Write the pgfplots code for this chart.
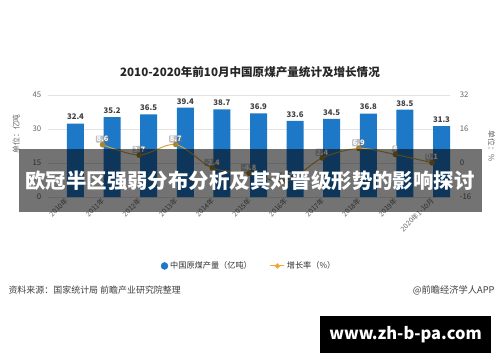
\documentclass[border=0pt]{standalone}
\usepackage{pgfplots}
\pgfplotsset{compat=1.18}
\usepackage{fontspec}
\setmainfont{Noto Sans CJK SC}
\definecolor{barblue}{HTML}{1E78C8}
\definecolor{linegold}{HTML}{D4A43A}
\definecolor{markgold}{HTML}{A8852C}
\definecolor{legorange}{HTML}{F0A830}
\definecolor{txtgray}{HTML}{666666}
\definecolor{gridgray}{HTML}{E3E3E3}
\begin{document}
\begin{tikzpicture}[x=1bp,y=1bp]
\path[fill=white,use as bounding box] (0,0) rectangle (500,362);
\node[font=\bfseries\fontsize{11.6}{13}\selectfont, text=black!85] at (250,290) {2010-2020年前10月中国原煤产量统计及增长情况};
\begin{axis}[
  at={(47.7bp,165bp)}, anchor=south west, scale only axis,
  width=402.6bp, height=102bp,
  xmin=-0.5, xmax=10.5, ymin=0, ymax=45,
  ytick={0,15,30,45}, xtick={0,...,10},
  xticklabels={2010年,2011年,2012年,2013年,2014年,2015年,2016年,2017年,2018年,2019年,2020年1-10月},
  xticklabel style={rotate=45, anchor=east, font=\fontsize{7}{8}\selectfont, text=txtgray, yshift=-2bp, xshift=2bp},
  yticklabel style={font=\fontsize{7.8}{8}\selectfont, text=txtgray, xshift=-3bp},
  /pgf/number format/assume math mode=true,
  axis line style={draw=none}, major tick length=0pt,
  ymajorgrids, grid style={gridgray, line width=0.6pt},
  ylabel={单位：亿吨}, ylabel style={font=\fontsize{7.8}{8}\selectfont, text=txtgray, at={(ticklabel cs:0.62)}, yshift=6bp},
  ybar, bar width=17bp,
  nodes near coords, nodes near coords style={font=\bfseries\fontsize{7.8}{8}\selectfont, text=black!75, /pgf/number format/.cd, fixed, fixed zerofill, precision=1},
  legend style={at={(0.5,-0.676)}, anchor=center, draw=none, fill=none, legend columns=2, font=\fontsize{8.2}{9}\selectfont, text=black!80, /tikz/every even column/.append style={column sep=16bp}},
]
\addplot[fill=barblue, draw=none, forget plot] coordinates {(0,32.4) (1,35.2) (2,36.5) (3,39.4) (4,38.7) (5,36.9) (6,33.6) (7,34.5) (8,36.8) (9,38.5) (10,31.3)};
\addlegendimage{legend image code/.code={\fill[barblue] (0.35em,0) circle (3.5bp);}}
\addlegendimage{legend image code/.code={\draw[legorange, line width=1pt] (0,0) -- (1.4em,0); \fill[legorange] (0.7em,0) +(0,2.5bp) -- +(2.5bp,0) -- +(0,-2.5bp) -- +(-2.5bp,0) -- cycle;}}
\legend{中国原煤产量（亿吨）,增长率（\%）}
\end{axis}
\begin{axis}[
  at={(47.7bp,165bp)}, anchor=south west, scale only axis,
  width=402.6bp, height=102bp,
  xmin=-0.5, xmax=10.5, ymin=-16, ymax=32,
  ytick={-16,0,16,32},
  axis x line=none, axis y line*=right, axis line style={draw=none}, major tick length=0pt,
  yticklabel style={font=\fontsize{7.8}{8}\selectfont, text=txtgray, xshift=6bp},
  /pgf/number format/assume math mode=true,
  ylabel={单位：\%}, ylabel style={font=\fontsize{7.8}{8}\selectfont, text=txtgray, rotate=180, at={(ticklabel cs:0.5)}, yshift=10bp},
  nodes near coords, point meta=explicit symbolic,
  nodes near coords style={font=\bfseries\fontsize{7.5}{8}\selectfont, text=white, anchor=south, yshift=1.5bp, fill=black!55, fill opacity=0.45, text opacity=1, inner sep=0.8pt, rounded corners=1pt},
]
\addplot[linegold, line width=1pt, smooth, mark=*, mark size=2.3pt, mark options={fill=markgold, draw=markgold}] coordinates {(1,8.6)[8.6] (2,3.7)[3.7] (3,8.7)[8.7] (4,-2.4)[-2.4] (5,-4.8)[-4.8] (6,-8.7)[-8.7] (7,2.4)[2.4] (8,6.9)[6.9] (9,4)[4] (10,0.1)[0.1]};
\end{axis}
\node[font=\fontsize{9}{10}\selectfont, text=black!75, anchor=west] at (5,72) {资料来源：国家统计局 前瞻产业研究院整理};
\node[font=\fontsize{9.3}{10}\selectfont, text=black!75, anchor=east] at (498,72) {@前瞻经济学人APP};
\fill[black, opacity=0.55] (19,150) rectangle (482,213);
\node[font=\bfseries\fontsize{20.5}{22}\selectfont, text=white] at (250,181) {欧冠半区强弱分布分析及其对晋级形势的影响探讨};
\fill[black] (320,9) rectangle (491,46);
\node[font=\bfseries\fontsize{16.5}{18}\selectfont, text=white] at (405.5,27.5) {www.zh-b-pa.com};
\end{tikzpicture}
\end{document}
